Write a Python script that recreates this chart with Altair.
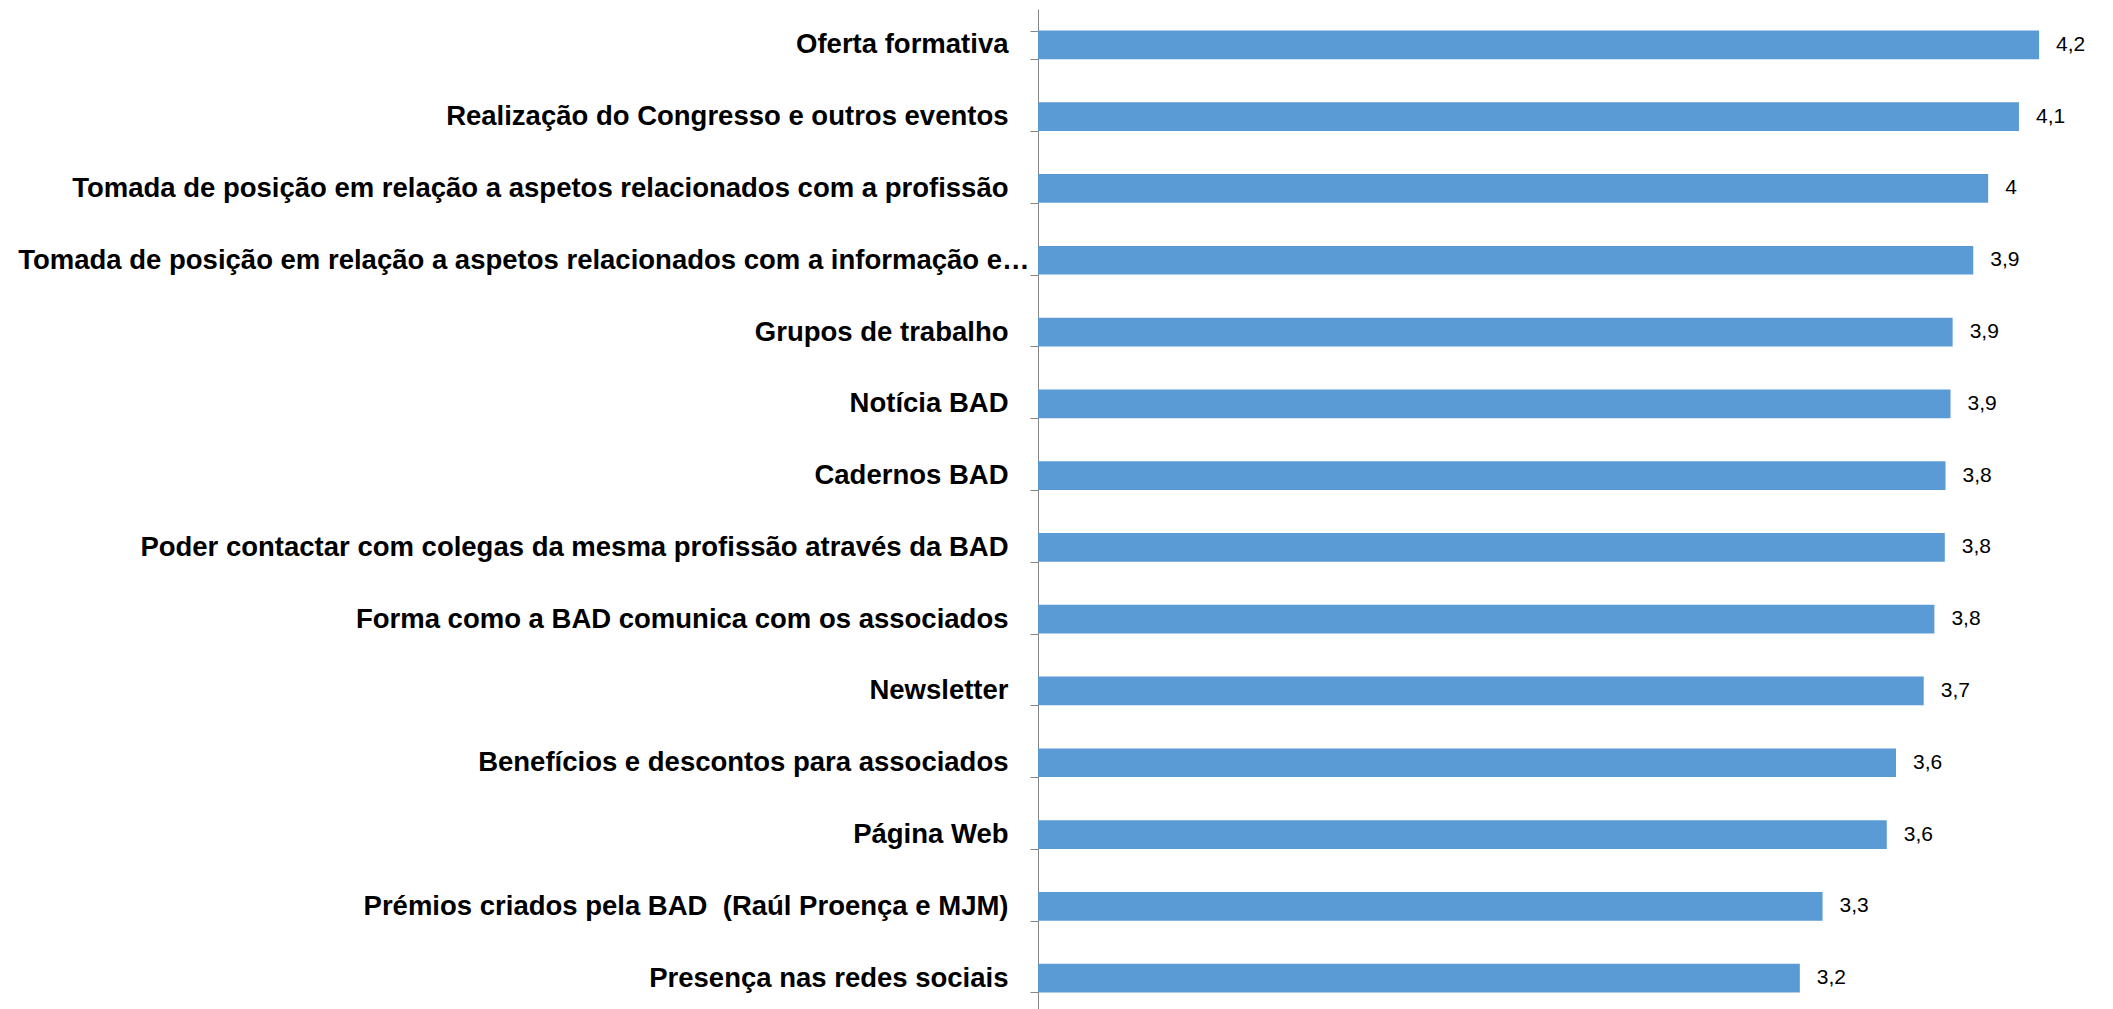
import altair as alt
import pandas as pd

categories = [
    "Oferta formativa",
    "Realização do Congresso e outros eventos",
    "Tomada de posição em relação a aspetos relacionados com a profissão",
    "Tomada de posição em relação a aspetos relacionados com a informação e…",
    "Grupos de trabalho",
    "Notícia BAD",
    "Cadernos BAD",
    "Poder contactar com colegas da mesma profissão através da BAD",
    "Forma como a BAD comunica com os associados",
    "Newsletter",
    "Benefícios e descontos para associados",
    "Página Web",
    "Prémios criados pela BAD\u00a0 (Raúl Proença e MJM)",
    "Presença nas redes sociais",
]
values = [4.226, 4.141, 4.011, 3.948, 3.861, 3.852, 3.831, 3.828, 3.784, 3.739,
          3.622, 3.583, 3.312, 3.216]

df = pd.DataFrame({"item": categories, "score": values})

FONT = "Liberation Sans, Arial, sans-serif"

y_enc = alt.Y(
    "item:N",
    sort=categories,
    scale=alt.Scale(paddingInner=0.6, paddingOuter=0.3),
    axis=alt.Axis(
        title=None,
        tickBand="extent",
        tickSize=8,
        tickColor="#868686",
        domainColor="#868686",
        labelFont=FONT,
        labelFontSize=27.5,
        labelFontWeight="bold",
        labelColor="#000000",
        labelLimit=0,
        labelPadding={"condition": {"test": "length(datum.label) > 68", "value": 1}, "value": 22},
        grid=False,
    ),
)

x_enc = alt.X("score:Q", scale=alt.Scale(domain=[0, 4.5], nice=False, zero=True), axis=None)

bars = alt.Chart(df).mark_bar(color="#5B9BD5").encode(y=y_enc, x=x_enc)

text = (
    alt.Chart(df)
    .transform_calculate(lbl="replace(format(datum.score, '.2~r'), '.', ',')")
    .mark_text(align="left", baseline="middle", dx=17, font=FONT, fontSize=21, color="#000000")
    .encode(y=alt.Y("item:N", sort=categories), x=x_enc, text="lbl:N")
)

chart = (
    (bars + text)
    .properties(
        width=1066,
        height=1005,
        padding={"left": 1030, "top": 1, "right": 0, "bottom": 0},
        autosize=alt.AutoSizeParams(type="none"),
        background="#ffffff",
    )
    .configure_view(stroke=None)
)

chart.save("out.html", embed_options={"renderer": "svg", "actions": False})
